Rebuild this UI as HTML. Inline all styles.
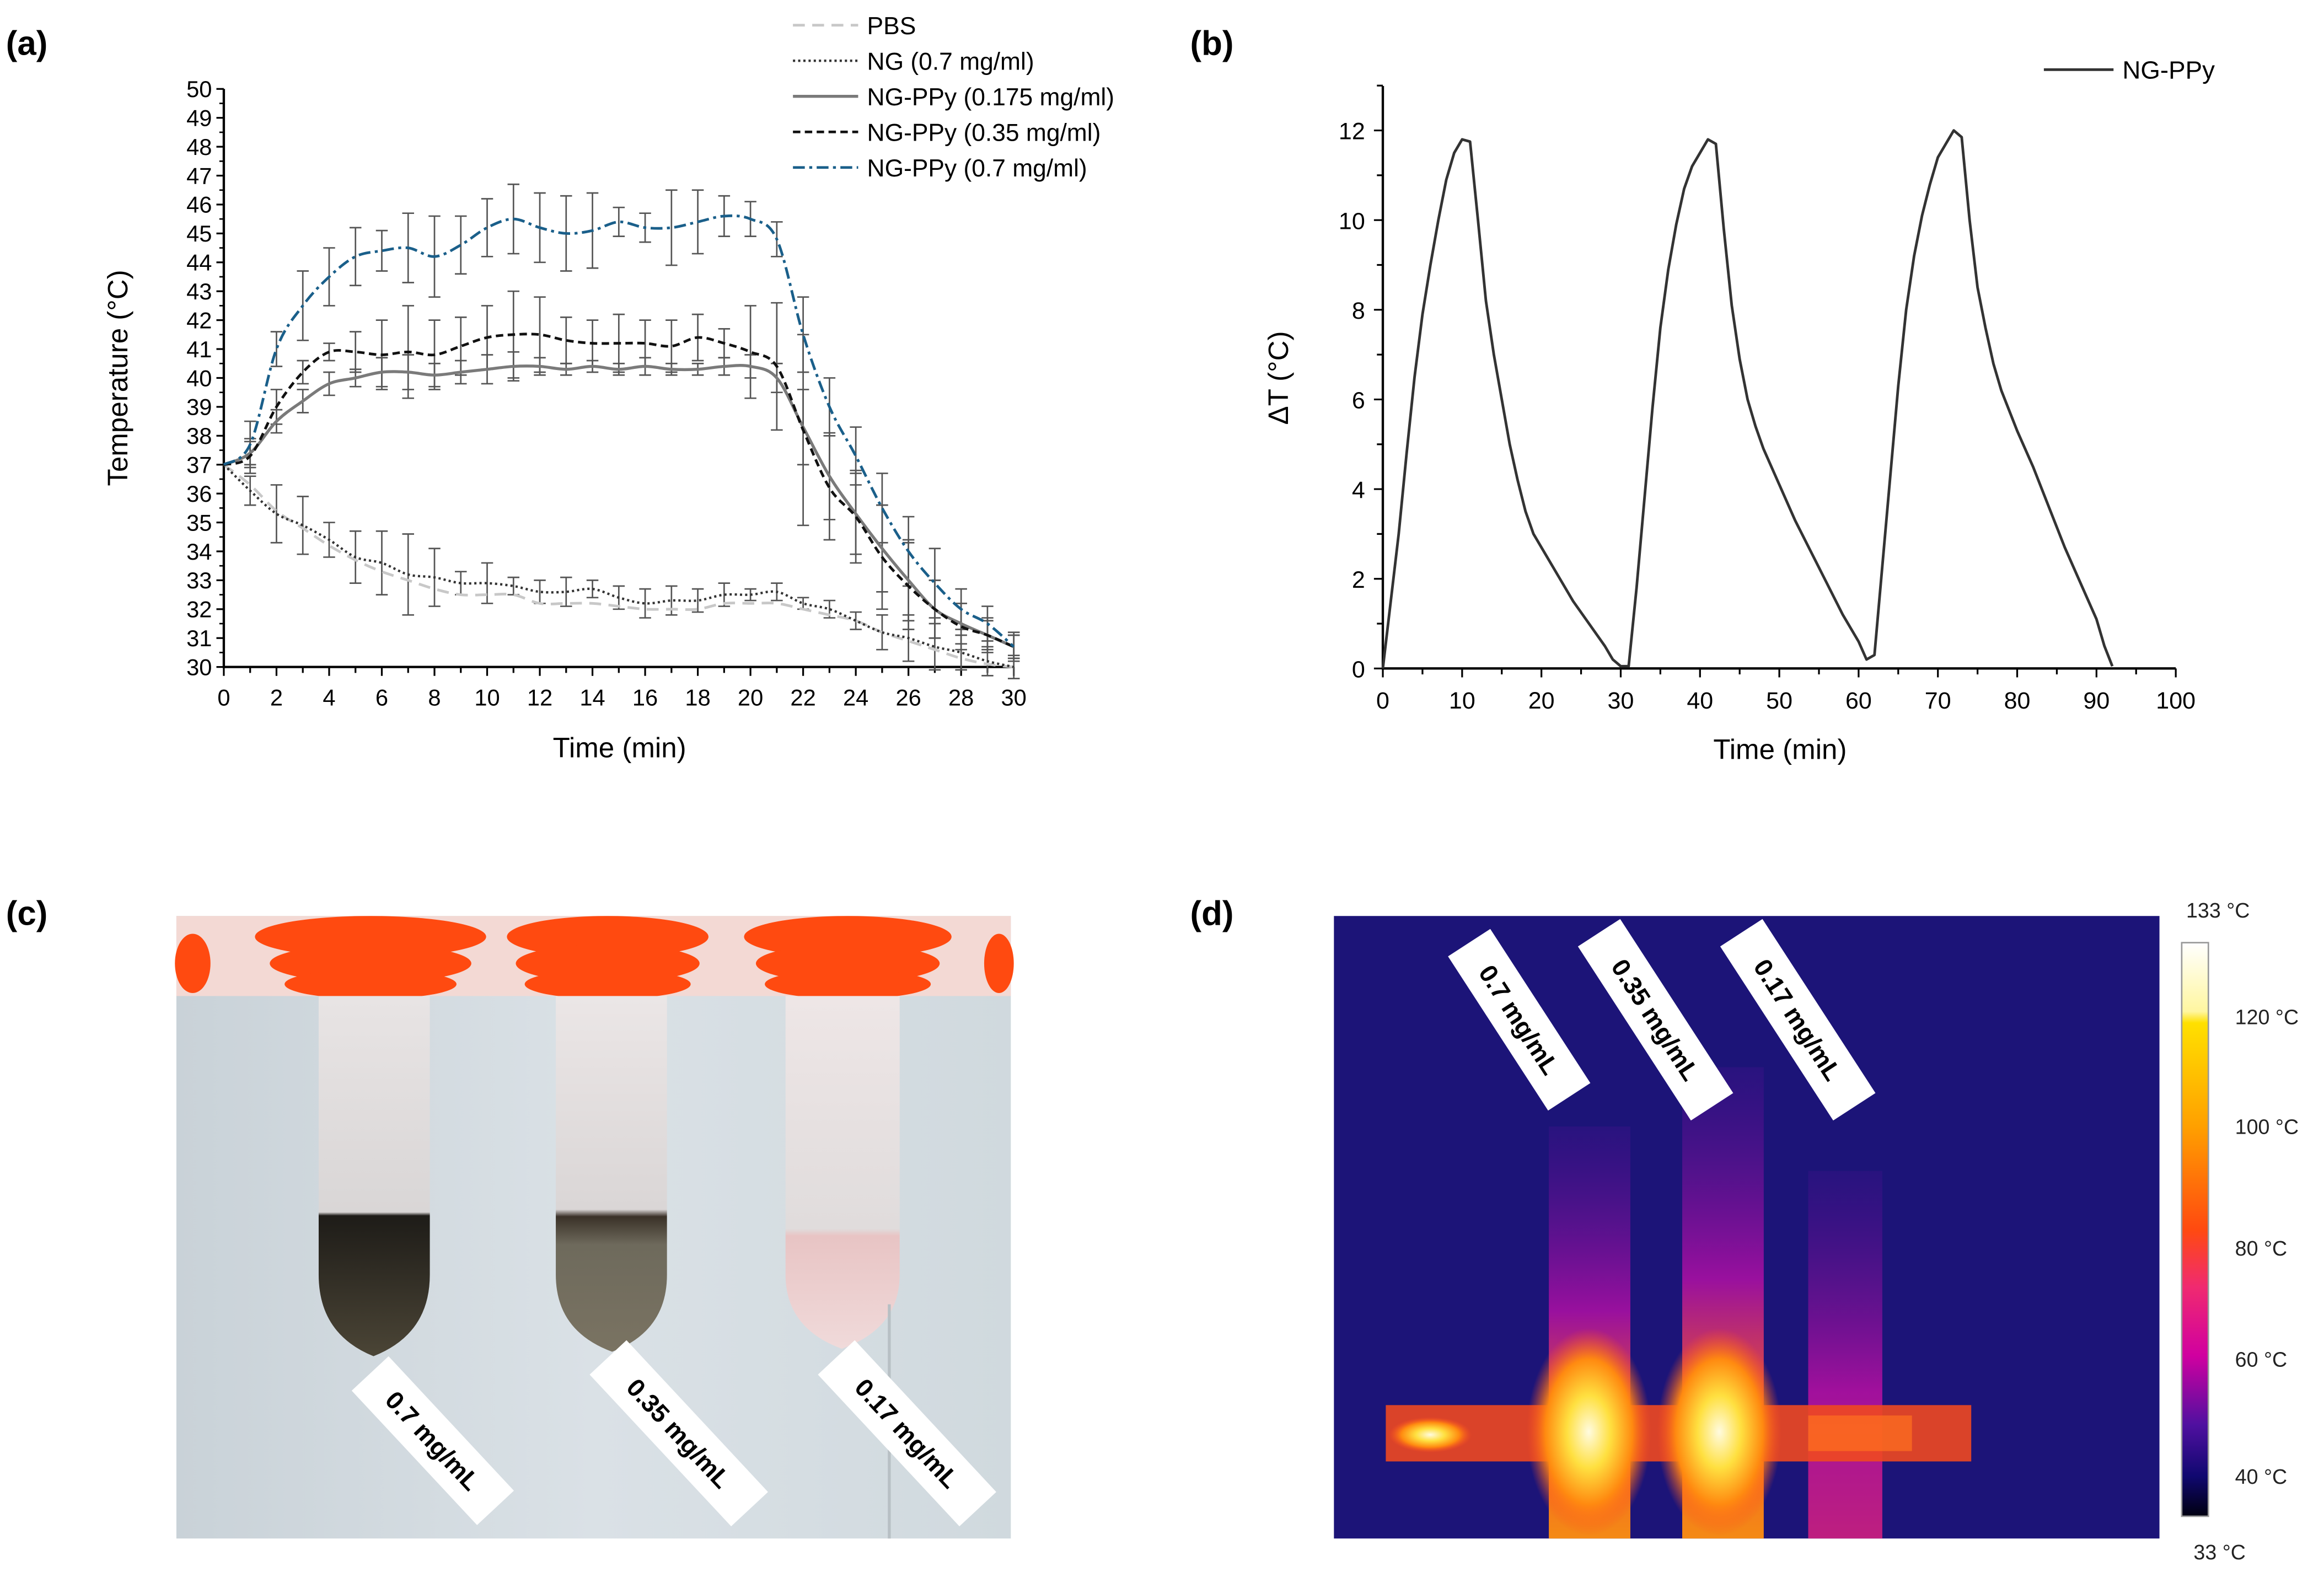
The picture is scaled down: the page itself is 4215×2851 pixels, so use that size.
<!DOCTYPE html>
<html><head><meta charset="utf-8"><title>Photothermal figure</title>
<style>
html,body{margin:0;padding:0;background:#fff;}
svg{display:block;}
text{font-family:"Liberation Sans",Arial,sans-serif;}
</style></head>
<body>
<svg id="fig" width="4215" height="2851" viewBox="0 0 1568 1060.6" xmlns="http://www.w3.org/2000/svg">
<defs>
<linearGradient id="cbar" x1="0" y1="0" x2="0" y2="1">
<stop offset="0" stop-color="#ffffff"/><stop offset="0.12" stop-color="#fff6a0"/><stop offset="0.14" stop-color="#ffe000"/>
<stop offset="0.32" stop-color="#ffa000"/><stop offset="0.5" stop-color="#ff4a10"/><stop offset="0.6" stop-color="#f02a70"/>
<stop offset="0.72" stop-color="#d000a0"/><stop offset="0.84" stop-color="#5010a0"/><stop offset="0.93" stop-color="#100870"/><stop offset="1" stop-color="#000010"/>
</linearGradient>
<linearGradient id="bgc" x1="0" y1="0" x2="1" y2="0"><stop offset="0" stop-color="#c9d2d8"/><stop offset="0.5" stop-color="#dae1e6"/><stop offset="1" stop-color="#d0d9de"/></linearGradient>
<linearGradient id="tube1" x1="0" y1="0" x2="0" y2="1"><stop offset="0" stop-color="#e8e4e4"/><stop offset="0.6" stop-color="#d9d6d6"/><stop offset="0.61" stop-color="#1e1c18"/><stop offset="1" stop-color="#4b4536"/></linearGradient>
<linearGradient id="tube2" x1="0" y1="0" x2="0" y2="1"><stop offset="0" stop-color="#ebe6e6"/><stop offset="0.6" stop-color="#dad6d6"/><stop offset="0.62" stop-color="#3a3128"/><stop offset="0.7" stop-color="#6e6a5c"/><stop offset="1" stop-color="#7a7362"/></linearGradient>
<linearGradient id="tube3" x1="0" y1="0" x2="0" y2="1"><stop offset="0" stop-color="#eee6e6"/><stop offset="0.66" stop-color="#e0dcdc"/><stop offset="0.68" stop-color="#e8c4c4"/><stop offset="1" stop-color="#f0dada"/></linearGradient>
<radialGradient id="hot" cx="0.5" cy="0.5" r="0.5"><stop offset="0" stop-color="#fffbe0"/><stop offset="0.35" stop-color="#ffe040"/><stop offset="0.7" stop-color="#ff8a10"/><stop offset="1" stop-color="#ff5020" stop-opacity="0"/></radialGradient>
<linearGradient id="col1" x1="0" y1="0" x2="0" y2="1"><stop offset="0" stop-color="#4a1090" stop-opacity="0.3"/><stop offset="0.45" stop-color="#a010a0"/><stop offset="0.75" stop-color="#ff6020"/><stop offset="1" stop-color="#ff9010"/></linearGradient>
<linearGradient id="col3" x1="0" y1="0" x2="0" y2="1"><stop offset="0" stop-color="#4a1090" stop-opacity="0.3"/><stop offset="0.6" stop-color="#b010a0"/><stop offset="1" stop-color="#d02080"/></linearGradient>
</defs>

<!-- panel labels -->
<text x="4" y="37" font-size="23" font-weight="bold">(a)</text>
<text x="803" y="37" font-size="23" font-weight="bold">(b)</text>
<text x="4" y="624" font-size="23" font-weight="bold">(c)</text>
<text x="803" y="624" font-size="23" font-weight="bold">(d)</text>

<g id="chartA"></g>
<g id="chartB"></g>

<!-- Panel c photo -->
<g>
<rect x="119" y="618" width="563" height="420" fill="url(#bgc)"/>
<rect x="119" y="618" width="563" height="54" fill="#f3d9d4"/>
<g fill="#ff4a10">
<ellipse cx="250" cy="632" rx="78" ry="14"/><ellipse cx="250" cy="650" rx="68" ry="13"/><ellipse cx="250" cy="664" rx="58" ry="10"/>
<ellipse cx="410" cy="632" rx="68" ry="14"/><ellipse cx="410" cy="650" rx="62" ry="13"/><ellipse cx="410" cy="664" rx="56" ry="10"/>
<ellipse cx="572" cy="632" rx="70" ry="14"/><ellipse cx="572" cy="650" rx="62" ry="13"/><ellipse cx="572" cy="664" rx="56" ry="10"/>
<ellipse cx="130" cy="650" rx="12" ry="20"/><ellipse cx="674" cy="650" rx="10" ry="20"/>
</g>
<path d="M215,672 L290,672 L290,860 Q290,900 252,915 Q215,900 215,860 Z" fill="url(#tube1)"/>
<path d="M375,672 L450,672 L450,860 Q450,898 413,912 Q375,898 375,860 Z" fill="url(#tube2)"/>
<path d="M530,672 L607,672 L607,860 Q607,896 568,910 Q530,896 530,860 Z" fill="url(#tube3)"/>
<line x1="600" y1="880" x2="600" y2="1038" stroke="#b8c0c4" stroke-width="2"/>
<g font-size="17" font-weight="bold">
<g transform="translate(292,972) rotate(47)"><rect x="-62" y="-17" width="124" height="34" fill="#fff"/><text x="0" y="6" text-anchor="middle">0.7 mg/mL</text></g>
<g transform="translate(458,967) rotate(47)"><rect x="-70" y="-17" width="140" height="34" fill="#fff"/><text x="0" y="6" text-anchor="middle">0.35 mg/mL</text></g>
<g transform="translate(612,967) rotate(47)"><rect x="-70" y="-17" width="140" height="34" fill="#fff"/><text x="0" y="6" text-anchor="middle">0.17 mg/mL</text></g>
</g>
</g>

<!-- Panel d thermal -->
<g>
<rect x="900" y="618" width="557" height="420" fill="#1c1478"/>
<rect x="1045" y="760" width="55" height="278" fill="url(#col1)" opacity="0.95"/>
<rect x="1135" y="720" width="55" height="318" fill="url(#col1)" opacity="0.95"/>
<rect x="1220" y="790" width="50" height="248" fill="url(#col3)" opacity="0.9"/>
<rect x="935" y="948" width="395" height="38" fill="#f04820" opacity="0.9"/>
<ellipse cx="1072" cy="966" rx="42" ry="70" fill="url(#hot)"/>
<ellipse cx="1160" cy="966" rx="42" ry="70" fill="url(#hot)"/>
<ellipse cx="965" cy="968" rx="28" ry="12" fill="url(#hot)"/>
<rect x="1220" y="955" width="70" height="24" fill="#ff7020" opacity="0.7"/>
<g font-size="17" font-weight="bold">
<g transform="translate(1025,688) rotate(57)"><rect x="-62" y="-17" width="124" height="34" fill="#fff"/><text x="0" y="6" text-anchor="middle">0.7 mg/mL</text></g>
<g transform="translate(1117,688) rotate(57)"><rect x="-70" y="-17" width="140" height="34" fill="#fff"/><text x="0" y="6" text-anchor="middle">0.35 mg/mL</text></g>
<g transform="translate(1213,688) rotate(57)"><rect x="-70" y="-17" width="140" height="34" fill="#fff"/><text x="0" y="6" text-anchor="middle">0.17 mg/mL</text></g>
</g>
</g>
<g>
<rect x="1472" y="636" width="18" height="387" fill="url(#cbar)" stroke="#999" stroke-width="1"/>
<g font-size="14" fill="#222">
<text x="1475" y="619">133 °C</text>
<text x="1508" y="691">120 °C</text>
<text x="1508" y="765">100 °C</text>
<text x="1508" y="847">80 °C</text>
<text x="1508" y="922">60 °C</text>
<text x="1508" y="1001">40 °C</text>
<text x="1480" y="1052">33 °C</text>
</g>
</g>
</svg>
<script>
// ---------- Panel (a) data ----------
const timeA = [0,1,2,3,4,5,6,7,8,9,10,11,12,13,14,15,16,17,18,19,20,21,22,23,24,25,26,27,28,29,30];
const pbs   = [37,36.3,35.4,34.8,34.2,33.7,33.3,33.0,32.7,32.5,32.5,32.5,32.2,32.2,32.2,32.1,32.0,32.0,32.0,32.2,32.2,32.2,32.0,31.8,31.6,31.2,30.9,30.6,30.3,30.1,30.0];
const ng    = [37,36.1,35.3,34.9,34.4,33.8,33.6,33.2,33.1,32.9,32.9,32.8,32.6,32.6,32.7,32.4,32.2,32.3,32.3,32.5,32.5,32.6,32.2,32.0,31.6,31.2,31.0,30.7,30.5,30.2,30.0];
const ngErr = [0,0.5,1.0,1.0,0.6,0.9,1.1,1.4,1.0,0.4,0.7,0.3,0.4,0.5,0.3,0.4,0.5,0.5,0.4,0.4,0.2,0.3,0.2,0.3,0.3,0.6,0.8,0.8,0.6,0.5,0.4];
const ppy175 = [37,37.4,38.5,39.2,39.8,40.0,40.2,40.2,40.1,40.2,40.3,40.4,40.4,40.3,40.4,40.3,40.4,40.3,40.3,40.4,40.4,40.0,38.3,36.6,35.3,34.1,33.0,32.0,31.5,31.1,30.7];
const ppy175Err = [0,0.4,0.4,0.4,0.4,0.3,0.5,0.6,0.4,0.4,0.5,0.5,0.3,0.2,0.2,0.2,0.3,0.2,0.2,0.3,0.4,0.5,1.3,1.5,1.4,1.5,1.4,1.0,0.7,0.5,0.4];
const ppy35 = [37,37.3,39.0,40.2,40.9,40.9,40.8,40.9,40.8,41.1,41.4,41.5,41.5,41.3,41.2,41.2,41.2,41.1,41.4,41.2,40.9,40.4,38.2,36.2,35.2,33.8,32.8,32.0,31.4,31.1,30.7];
const ppy35Err = [0,0.6,0.6,0.4,0.3,0.7,1.2,1.6,1.2,1.0,1.1,1.5,1.3,0.8,0.8,1.0,0.8,0.9,0.8,0.5,1.6,2.2,3.3,1.8,1.6,1.8,1.5,1.0,0.8,0.6,0.4];
const ppy7  = [37,37.7,41.0,42.5,43.5,44.2,44.4,44.5,44.2,44.6,45.2,45.5,45.2,45.0,45.1,45.4,45.2,45.2,45.4,45.6,45.5,44.8,41.5,39.0,37.3,35.5,34.0,32.9,32.0,31.5,30.7];
const ppy7Err = [0,0.8,0.6,1.2,1.0,1.0,0.7,1.2,1.4,1.0,1.0,1.2,1.2,1.3,1.3,0.5,0.5,1.3,1.1,0.7,0.6,0.6,1.3,1.0,1.0,1.2,1.2,1.2,0.7,0.6,0.5];
const yTicksA = [30,31,32,33,34,35,36,37,38,39,40,41,42,43,44,45,46,47,48,49,50];
const xTicksA = [0,2,4,6,8,10,12,14,16,18,20,22,24,26,28,30];
const legendA = ["PBS","NG (0.7 mg/ml)","NG-PPy (0.175 mg/ml)","NG-PPy (0.35 mg/ml)","NG-PPy (0.7 mg/ml)"];

// ---------- Panel (b) data ----------
const timeB = [0,1,2,3,4,5,6,7,8,9,10,11,12,13,14,15,16,17,18,19,20,22,24,26,28,29,30,31,32,33,34,35,36,37,38,39,40,41,42,43,44,45,46,47,48,50,52,54,56,58,60,61,62,63,64,65,66,67,68,69,70,71,72,73,74,75,76,77,78,80,82,84,86,88,90,91,92];
const deltaT = [0,1.5,3,4.8,6.5,7.9,9,10,10.9,11.5,11.8,11.75,10,8.2,7,6,5,4.2,3.5,3,2.7,2.1,1.5,1,0.5,0.2,0.05,0.05,1.8,3.8,5.8,7.6,8.9,9.9,10.7,11.2,11.5,11.8,11.7,9.8,8.1,6.9,6,5.4,4.9,4.1,3.3,2.6,1.9,1.2,0.6,0.2,0.3,2.3,4.3,6.3,8,9.2,10.1,10.8,11.4,11.7,12,11.85,10,8.5,7.6,6.8,6.2,5.3,4.5,3.6,2.7,1.9,1.1,0.5,0.05];
const yTicksB = [0,2,4,6,8,10,12];
const xTicksB = [0,10,20,30,40,50,60,70,80,90,100];

const NS = "http://www.w3.org/2000/svg";
function mk(parent, tag, attrs, txt){
  const e = document.createElementNS(NS, tag);
  for (const k in attrs) e.setAttribute(k, attrs[k]);
  if (txt !== undefined) e.textContent = txt;
  parent.appendChild(e);
  return e;
}
function smooth(pts){
  let d = "M" + pts[0][0] + "," + pts[0][1];
  for (let i = 0; i < pts.length - 1; i++){
    const p0 = pts[Math.max(0,i-1)], p1 = pts[i], p2 = pts[i+1], p3 = pts[Math.min(pts.length-1,i+2)];
    const c1x = p1[0] + (p2[0]-p0[0])/6, c1y = p1[1] + (p2[1]-p0[1])/6;
    const c2x = p2[0] - (p3[0]-p1[0])/6, c2y = p2[1] - (p3[1]-p1[1])/6;
    d += " C" + c1x + "," + c1y + " " + c2x + "," + c2y + " " + p2[0] + "," + p2[1];
  }
  return d;
}

// ---------- Chart A ----------
(function(){
  const g = document.getElementById("chartA");
  const X0 = 151, X1 = 684, Y0 = 450, Y1 = 60;
  const xs = t => X0 + (t - 0) / 30 * (X1 - X0);
  const ys = v => Y0 - (v - 30) / 20 * (Y0 - Y1);
  const axis = mk(g, "path", {d:`M${X0},${Y1} L${X0},${Y0} L${X1},${Y0}`, fill:"none", stroke:"#000", "stroke-width":1.6});
  
  
  yTicksA.forEach(v => {
    mk(g, "line", {x1:X0-5, x2:X0, y1:ys(v), y2:ys(v), stroke:"#000", "stroke-width":1.2});
    const t = mk(g, "text", {x:X0-8, y:ys(v)+5.5, "font-size":15.5, "text-anchor":"end"}, String(v));
    
    
  });
  for (let v = 30.5; v < 50; v += 1) mk(g, "line", {x1:X0-3, x2:X0, y1:ys(v), y2:ys(v), stroke:"#000", "stroke-width":1});
  timeA.forEach(t => mk(g, "line", {x1:xs(t), x2:xs(t), y1:Y0, y2:Y0+(t%2===0?6:4), stroke:"#000", "stroke-width":1.2}));
  xTicksA.forEach(t => {
    const l = mk(g, "text", {x:xs(t), y:Y0+26, "font-size":15.5, "text-anchor":"middle"}, String(t));
    
    
  });
  const yt = mk(g, "text", {x:0, y:0, "font-size":19, "text-anchor":"middle", transform:`translate(86,255) rotate(-90)`}, "Temperature (°C)");
  
  
  const xt = mk(g, "text", {x:418, y:511, "font-size":19, "text-anchor":"middle"}, "Time (min)");
  
  

  const series = [
    {v:pbs, err:null, stroke:"#c8c8c8", dash:"8,5", w:1.8, name:"series-pbs"},
    {v:ng, err:ngErr, stroke:"#333", dash:"1.5,2", w:1.6, name:"series-ng"},
    {v:ppy175, err:ppy175Err, stroke:"#7a7a7a", dash:"", w:2, name:"series-ngppy-0175"},
    {v:ppy35, err:ppy35Err, stroke:"#111", dash:"5,3", w:1.8, name:"series-ngppy-035"},
    {v:ppy7, err:ppy7Err, stroke:"#1a5f8a", dash:"8,3,2,3", w:1.8, name:"series-ngppy-07"}
  ];
  series.forEach(s => {
    if (s.err){
      const eg = mk(g, "g", {stroke:"#555", "stroke-width":1});
      
      
      timeA.forEach((t,i) => {
        if (s.err[i] <= 0) return;
        const x = xs(t), a = ys(s.v[i]+s.err[i]), b = ys(s.v[i]-s.err[i]);
        mk(eg, "line", {x1:x, x2:x, y1:a, y2:b});
        mk(eg, "line", {x1:x-4, x2:x+4, y1:a, y2:a});
        mk(eg, "line", {x1:x-4, x2:x+4, y1:b, y2:b});
      });
    }
  });
  series.forEach(s => {
    const pts = timeA.map((t,i) => [xs(t), ys(s.v[i])]);
    const p = mk(g, "path", {d:smooth(pts), fill:"none", stroke:s.stroke, "stroke-width":s.w, "stroke-dasharray":s.dash});
    
    
  });
  legendA.forEach((name,i) => {
    const y = 17 + i*24;
    const s = series[i];
    const lg = mk(g, "g", {});
    
    
    mk(lg, "line", {x1:535, x2:579, y1:y, y2:y, stroke:s.stroke, "stroke-width":s.w, "stroke-dasharray":s.dash});
    mk(lg, "text", {x:585, y:y+6, "font-size":16.5}, name);
  });
})();

// ---------- Chart B ----------
(function(){
  const g = document.getElementById("chartB");
  const X0 = 933, X1 = 1468, Y0 = 451, YT = 58;
  const xs = t => X0 + t / 100 * (X1 - X0);
  const ys = v => Y0 - v / 12 * (Y0 - 88);
  const axis = mk(g, "path", {d:`M${X0},${YT} L${X0},${Y0} L${X1},${Y0}`, fill:"none", stroke:"#000", "stroke-width":1.6});
  
  
  for (let v = 0; v <= 13; v++) mk(g, "line", {x1:X0-(v%2===0?6:4), x2:X0, y1:ys(v), y2:ys(v), stroke:"#000", "stroke-width":1.2});
  yTicksB.forEach(v => {
    const t = mk(g, "text", {x:X0-12, y:ys(v)+6, "font-size":16, "text-anchor":"end"}, String(v));
    
    
  });
  for (let t = 0; t <= 100; t += 5) mk(g, "line", {x1:xs(t), x2:xs(t), y1:Y0, y2:Y0+(t%10===0?6:4), stroke:"#000", "stroke-width":1.2});
  xTicksB.forEach(t => {
    const l = mk(g, "text", {x:xs(t), y:Y0+27, "font-size":16, "text-anchor":"middle"}, String(t));
    
    
  });
  const yt = mk(g, "text", {x:0, y:0, "font-size":19, "text-anchor":"middle", transform:`translate(869,255) rotate(-90)`}, "ΔT (°C)");
  
  
  const xt = mk(g, "text", {x:1201, y:512, "font-size":19, "text-anchor":"middle"}, "Time (min)");
  
  
  const d = timeB.map((t,i) => (i?"L":"M") + xs(t) + "," + ys(deltaT[i])).join(" ");
  const p = mk(g, "path", {d:d, fill:"none", stroke:"#333", "stroke-width":1.8, "stroke-linejoin":"round"});
  
  
  const lg = mk(g, "g", {});
  
  
  mk(lg, "line", {x1:1379, x2:1426, y1:47, y2:47, stroke:"#333", "stroke-width":1.8});
  mk(lg, "text", {x:1432, y:53, "font-size":17}, "NG-PPy");
})();
</script>
</body></html>
